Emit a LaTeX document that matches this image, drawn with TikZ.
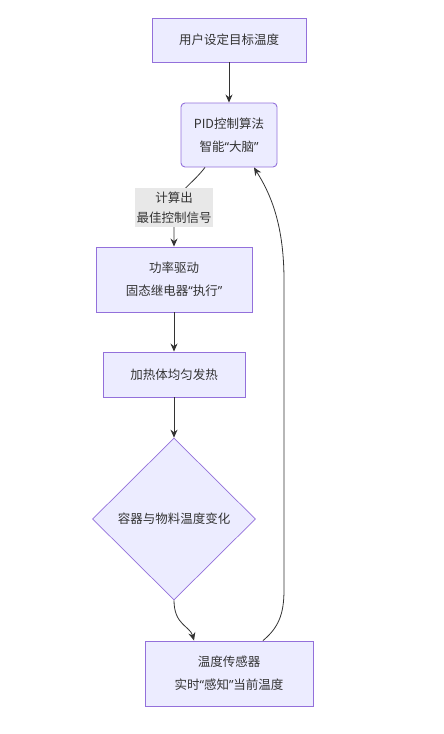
\documentclass[tikz,border=0pt]{standalone}
\usepackage{fontspec}
\setmainfont{Noto Sans CJK SC}
\newfontfamily\qf{Noto Sans}
\newcommand{\myLq}{{\qf “}}
\newcommand{\myRq}{{\qf ”}}
\usetikzlibrary{shapes.geometric,arrows.meta,calc}
\definecolor{nodefill}{HTML}{ECECFF}
\definecolor{nodeline}{HTML}{9370DB}
\definecolor{txt}{HTML}{333333}
\definecolor{lblbg}{HTML}{E8E8E8}
\begin{document}
\begin{tikzpicture}[x=1pt,y=-1pt,
  every node/.style={text=txt,font=\fontsize{12.5}{23}\selectfont,align=center,inner sep=0pt},
  box/.style={draw=nodeline,fill=nodefill,line width=0.9pt},
  rbox/.style={box,rounded corners=4pt},
  dia/.style={box,diamond,line width=0.7pt},
  lbl/.style={fill=lblbg,font=\fontsize{12.5}{20}\selectfont},
  arr/.style={draw=txt,line width=0.8pt,-{Stealth[length=8pt,width=7pt]}}]
\useasboundingbox (0,0) rectangle (444,734);
\node[box,minimum width=154pt,minimum height=44pt] (set) at (229,40) {用户设定目标温度};
\node[rbox,minimum width=96pt,minimum height=64pt] (pid) at (229,135) {PID控制算法\\智能\myLq 大脑\myRq};
\node[box,minimum width=156pt,minimum height=65pt] (drv) at (174,279.5) {功率驱动\\固态继电器\myLq 执行\myRq};
\node[box,minimum width=142pt,minimum height=45pt] (heat) at (174,374.5) {加热体均匀发热};
\node[dia,minimum width=163pt,minimum height=162pt] (chg) at (174,519) {容器与物料温度变化};
\node[box,minimum width=168pt,minimum height=65pt] (sens) at (229,673.5) {温度传感器\\实时\myLq 感知\myRq 当前温度};

\draw[arr] (set.south) -- (pid.north);
\draw[arr] ($(pid.south)+(-24,0)$) .. controls (190,187) and (174,192) .. (174,215) -- (drv.north);
\node[lbl,minimum width=78pt,minimum height=39pt] (calc) at (174,207.5) {计算出\\最佳控制信号};
\draw[arr] (drv.south) -- (heat.north);
\draw[arr] (heat.south) -- (chg.north);
\draw[arr] (chg.south) .. controls (174,625) and (190,626) .. ($(sens.north)+(-35,0)$);
\draw[arr] ($(sens.north)+(34,0)$) .. controls (278,628) and (284,615) .. (284,590) -- (284,280) .. controls (284,220) and (268,190) .. ($(pid.south)+(25,0)$);
\end{tikzpicture}
\end{document}
